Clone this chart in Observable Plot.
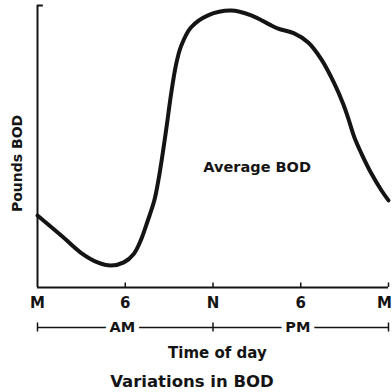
<!DOCTYPE html>
<html><head><meta charset="utf-8">
<script src="https://cdn.jsdelivr.net/npm/d3@7"></script>
<script src="https://cdn.jsdelivr.net/npm/@observablehq/plot@0.6"></script>
<style>body{margin:0;background:#fff}</style>
</head><body><div id="chart"></div>
<script>
// Time of day (hours after midnight) and relative BOD load (0–100)
const hours = [0, 1.78, 2.95, 4.11, 5.01, 5.9, 6.58, 7.06, 7.52, 7.99, 8.3, 8.78, 9.12, 9.46, 9.81, 10.49, 11.66, 13.23, 14.61, 15.84, 16.46, 17.55, 18.51, 19.41, 20.3, 20.91, 21.26, 21.67, 22.15, 22.83, 23.52, 24];
const bod = [25.5, 17.7, 12.4, 8.9, 7.8, 8.9, 11.9, 16.7, 23.4, 30.9, 39.0, 55.3, 68.1, 78.7, 85.5, 92.2, 96.5, 98.2, 96.5, 93.3, 91.8, 90.1, 86.9, 80.9, 72.3, 65.0, 59.8, 53.2, 47.5, 40.4, 34.4, 30.9];
const tickHours = [0, 6, 12, 18, 24];
const tickLabels = ["M", "6", "N", "6", "M"];
const periodHours = [5.8, 17.8];
const periodLabels = ["AM", "PM"];
const periodBounds = [0, 12, 24];
const xTitle = "Time of day";
const yTitle = "Pounds BOD";
const seriesLabel = "Average BOD";
const caption = "Variations in BOD";

const data = hours.map((h, i) => ({h, v: bod[i]}));
const ticks = tickHours.map((h, i) => ({h, label: tickLabels[i]}));
const innerTicks = ticks.slice(0, -1);
const lastTick = ticks.slice(-1);
const periods = periodHours.map((h, i) => ({h, label: periodLabels[i]}));
const ink = "#141414";
const font = "'DejaVu Sans', sans-serif";

const chart = Plot.plot({
  width: 392, height: 392,
  marginLeft: 37, marginRight: 4, marginTop: 5, marginBottom: 105,
  x: {domain: [0, 24], axis: null},
  y: {domain: [0, 100], axis: null},
  style: {fontFamily: font, fontWeight: "bold", background: "#fff", color: ink},
  marks: [
    Plot.ruleY([0], {x1: 0, x2: 24, stroke: ink, strokeWidth: 2}),
    Plot.ruleX([0], {y1: 0, y2: 100, stroke: ink, strokeWidth: 2}),
    Plot.ruleY([100], {x1: 0, x2: 0.4, stroke: ink, strokeWidth: 2}),
    Plot.ruleX(tickHours.slice(1), {x: d => d, y1: 0, y2: 1.6, stroke: ink, strokeWidth: 1.5}),
    Plot.line(data, {x: "h", y: "v", curve: "catmull-rom", stroke: ink, strokeWidth: 4}),
    Plot.text(innerTicks, {x: "h", y: 0, text: "label", dy: 15.5, fontSize: 15, fontWeight: "bold", fill: ink}),
    Plot.text(lastTick, {x: "h", y: 0, text: "label", dy: 15.5, dx: 3.5, textAnchor: "end", fontSize: 15, fontWeight: "bold", fill: ink}),
    Plot.ruleY([0], {x1: 0, x2: 24, dy: 40, stroke: ink, strokeWidth: 1.5}),
    Plot.ruleX(periodBounds, {x: d => d, y1: -1.6, y2: 1.6, dy: 40, stroke: ink, strokeWidth: 1.5}),
    Plot.text(periods, {x: "h", y: 0, text: "label", dy: 40, fontSize: 14.5, fontWeight: "bold", fill: ink, stroke: "white", strokeWidth: 10, paintOrder: "stroke"}),
    Plot.text([xTitle], {x: 12.3, y: 0, text: d => d, dy: 66, fontSize: 15, fontWeight: "bold", fill: ink}),
    Plot.text([caption], {x: 10.56, y: 0, text: d => d, dy: 94.5, fontSize: 16.5, fontWeight: "bold", fill: ink}),
    Plot.text([yTitle], {x: 0, y: 44, text: d => d, dx: -20, rotate: -90, fontSize: 14, fontWeight: "bold", fill: ink}),
    Plot.text([seriesLabel], {x: 15.02, y: 42.55, text: d => d, fontSize: 14.5, fontWeight: "bold", fill: ink})
  ]
});
document.getElementById("chart").append(chart);
</script>
</body></html>
